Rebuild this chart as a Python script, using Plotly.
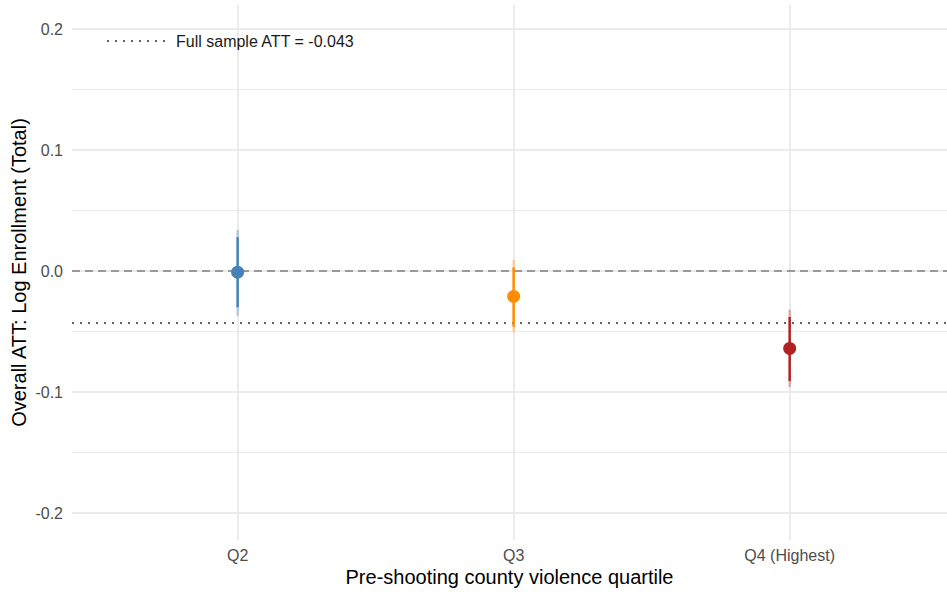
import plotly.graph_objects as go

# Heterogeneity of the overall ATT by pre-shooting county violence quartile
quartiles = ["Q2", "Q3", "Q4 (Highest)"]
att = [-0.001, -0.021, -0.064]
ci90_low = [-0.030, -0.046, -0.091]
ci90_high = [0.028, 0.003, -0.038]
ci95_low = [-0.037, -0.051, -0.096]
ci95_high = [0.034, 0.009, -0.032]
colors = ["#4682B4", "#FF8C00", "#B22222"]
light_colors = ["rgba(70,130,180,0.35)", "rgba(255,140,0,0.35)", "rgba(178,34,34,0.35)"]
full_sample_att = -0.043

y_ticks = [-0.2, -0.1, 0.0, 0.1, 0.2]
y_tick_text = ["-0.2", "-0.1", "0.0", "0.1", "0.2"]
y_minor = [-0.15, -0.05, 0.05, 0.15]

xpos = list(range(len(quartiles)))
fig = go.Figure()

# reference lines: zero and full-sample estimate
fig.add_trace(go.Scatter(
    x=[-0.6, 2.6], y=[0, 0], mode="lines",
    line=dict(color="#7f7f7f", width=1.5, dash="8px,5px"),
    showlegend=False, hoverinfo="skip"))
fig.add_trace(go.Scatter(
    x=[-0.6, 2.6], y=[full_sample_att] * 2, mode="lines",
    line=dict(color="#666666", width=2, dash="2px,6px"),
    name=f"Full sample ATT = {full_sample_att:.3f}", hoverinfo="skip"))

for i, q in enumerate(quartiles):
    # 95% interval (light)
    fig.add_trace(go.Scatter(
        x=[xpos[i]], y=[att[i]], mode="markers",
        marker=dict(size=1, color="rgba(0,0,0,0)"),
        error_y=dict(type="data", symmetric=False,
                     array=[ci95_high[i] - att[i]],
                     arrayminus=[att[i] - ci95_low[i]],
                     color=light_colors[i], thickness=2.4, width=0),
        showlegend=False, hoverinfo="skip"))
    # 90% interval and point estimate
    fig.add_trace(go.Scatter(
        x=[xpos[i]], y=[att[i]], mode="markers",
        marker=dict(size=13, color=colors[i]),
        error_y=dict(type="data", symmetric=False,
                     array=[ci90_high[i] - att[i]],
                     arrayminus=[att[i] - ci90_low[i]],
                     color=colors[i], thickness=2.4, width=0),
        showlegend=False, name=q))

# white box behind the legend, above the grid
fig.add_shape(type="rect", xref="paper", yref="paper",
              x0=(90 - 72) / 875, x1=(372 - 72) / 875,
              y0=(540 - 70) / 535, y1=(540 - 15) / 535,
              fillcolor="white", line=dict(width=0), layer="between")

font_family = "Liberation Sans, Arial, Helvetica, sans-serif"
fig.update_layout(
    width=947, height=594,
    margin=dict(l=72, r=0, t=5, b=54),
    plot_bgcolor="white", paper_bgcolor="white",
    font=dict(family=font_family, color="#4d4d4d", size=16),
    showlegend=True,
    legend=dict(x=(102 - 72) / 875, y=(540 - 41) / 535, yanchor="middle", xanchor="left",
                bgcolor="rgba(0,0,0,0)", font=dict(size=16, color="#1a1a1a"),
                itemwidth=64),
    xaxis=dict(
        range=[-0.6, 2.57], tickvals=xpos, ticktext=quartiles,
        showgrid=True, gridcolor="#ebebeb", gridwidth=2,
        zeroline=False, showline=False, ticks="",
        tickfont=dict(size=16, color="#4d4d4d"),
        ticklabelstandoff=4,
        title=dict(text="Pre-shooting county violence quartile",
                   font=dict(size=20, color="#000000"), standoff=6),
    ),
    yaxis=dict(
        range=[-0.2223, 0.2198], tickvals=y_ticks, ticktext=y_tick_text,
        showgrid=True, gridcolor="#ebebeb", gridwidth=2,
        minor=dict(tickvals=y_minor, showgrid=True, gridcolor="#ebebeb", gridwidth=1),
        zeroline=False, showline=False, ticks="",
        tickfont=dict(size=16, color="#4d4d4d"),
        ticklabelstandoff=8,
        title=dict(text="Overall ATT: Log Enrollment (Total)",
                   font=dict(size=20, color="#000000"), standoff=3),
    ),
)

fig.write_html("out.html")
